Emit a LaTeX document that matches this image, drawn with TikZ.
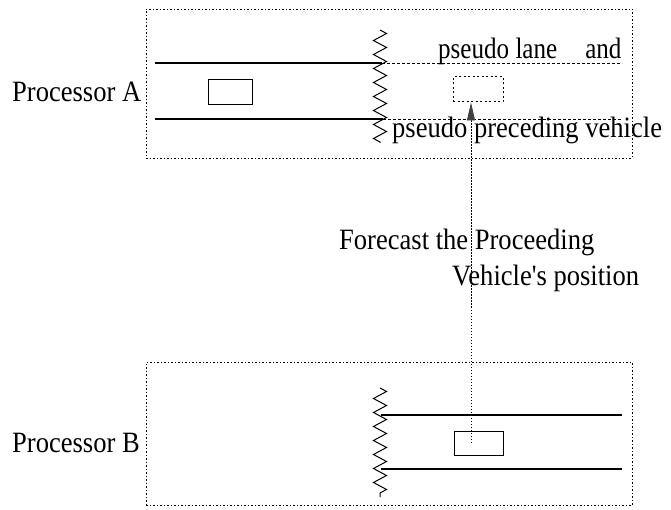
\documentclass[tikz,border=0pt]{standalone}
\usepackage{fontspec}
\setmainfont{Liberation Serif}
\usetikzlibrary{decorations.pathmorphing,arrows.meta}
\newcommand\narrowtext[1]{\scalebox{0.9}[1]{#1}}
\begin{document}
\begin{tikzpicture}[x=1pt,y=-1pt,
  frame/.style={draw, line width=0.8pt, dash pattern=on 1.5pt off 2pt, inner sep=0pt},
  car/.style={draw, line width=1pt, inner sep=0pt, minimum width=45pt, minimum height=25pt},
  pseudocar/.style={draw, line width=1pt, dash pattern=on 2pt off 2.5pt, inner sep=0pt, minimum width=50pt, minimum height=25pt},
  lane/.style={line width=1.1pt},
  pseudolane/.style={line width=0.9pt, dash pattern=on 2.5pt off 2.5pt},
  wavy/.style={line width=1pt, decorate, decoration={zigzag, segment length=14pt, amplitude=6.5pt}},
  lbl/.style={inner sep=0pt, anchor=base west, font=\fontsize{29.5}{33}\selectfont},
  link/.style={line width=0.8pt, dash pattern=on 1.5pt off 1.5pt}
]
\useasboundingbox (0,0) rectangle (671,510);
% processor frames
\node[frame, minimum width=486pt, minimum height=149pt] (topbox) at (389,83.5) {};
\node[frame, minimum width=486pt, minimum height=143pt] (botbox) at (389,433.5) {};
% labels
\node[lbl] (pa) at (12,102) {\narrowtext{Processor A}};
\node[lbl] (pb) at (12,452) {\narrowtext{Processor B}};
% processor A lanes
\draw[lane] (155,63) -- (382,63);
\draw[lane] (155,119) -- (383,119);
\draw[pseudolane] (382,63) -- (622,63);
\draw[pseudolane] (383,119) -- (622,119);
\draw[wavy] (380,30) -- (380,143);
% processor B lanes
\draw[lane] (381,415) -- (622,415);
\draw[lane] (381,469) -- (622,469);
\draw[wavy] (380,388) -- (380,497);
% vehicles
\node[car, minimum width=44pt] (carA) at (230,92.5) {};
\node[pseudocar] (pcar) at (478,89.5) {};
\node[car, minimum width=49pt, minimum height=24pt] (carB) at (478.5,443) {};
% texts
\node[lbl] (t1) at (438,59) {\scalebox{0.85}[1]{pseudo lane\hspace{33pt}and}};
\node[lbl] (t2) at (392,138) {\narrowtext{pseudo preceding vehicle}};
\node[lbl] (t3) at (339,250) {\narrowtext{Forecast the Proceeding}};
\node[lbl] (t4) at (452,285) {\narrowtext{Vehicle\textquotesingle s position}};
% forecast arrow
\coordinate (ax) at (471,0);
\draw[link] (carB.center -| ax) -- (471,120);
\draw[link, -{Triangle[length=18pt,width=8pt]}, fill=black!75, draw=black!75] (471,121) -- (pcar.south -| ax);
\end{tikzpicture}
\end{document}
